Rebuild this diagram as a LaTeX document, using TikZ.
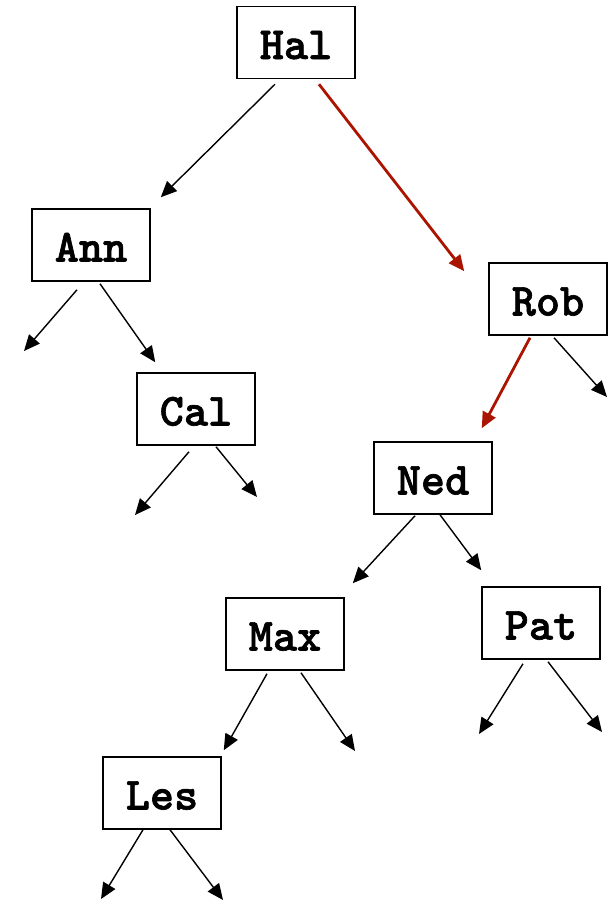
\documentclass[tikz,border=0pt]{standalone}
\usepackage{fontspec}
\newfontfamily\keyfont{lmmonolt10-bold.otf}[FakeBold=1.4]
\usetikzlibrary{arrows.meta}
\definecolor{ptrred}{RGB}{170,20,0}

\begin{document}
\begin{tikzpicture}[x=1pt,y=-1pt,
		>={Triangle[length=16pt,width=14pt]},
		box/.style={draw,line width=1.5pt,minimum width=118pt,minimum height=72pt,inner sep=0pt,
			text height=33pt,text depth=0pt,font=\fontsize{46}{46}\selectfont\keyfont},
		ptr/.style={->,line width=1.4pt},
		hot/.style={->,line width=2.8pt,draw=ptrred}]
				\useasboundingbox (0,0) rectangle (611,902);

				\node[box] (hal) at (296,42.5){Hal};
				\node[box] (ann) at (91,245){Ann};
				\node[box] (rob) at (548,299){Rob};
				\node[box] (cal) at (196,409){Cal};
				\node[box] (ned) at (433,478){Ned};
				\node[box] (max) at (285,634){Max};
				\node[box] (pat) at (541,623){Pat};
				\node[box] (les) at (162,793){Les};

				% empty children
				\coordinate (ann-l) at (24,351);
				\coordinate (cal-l) at (135,515);
				\coordinate (cal-r) at (257,497);
				\coordinate (rob-r) at (607,397);
				\coordinate (max-r) at (355,751);
				\coordinate (pat-l) at (479,734);
				\coordinate (pat-r) at (602,732);
				\coordinate (les-l) at (101,899);
				\coordinate (les-r) at (223,900);

				% search path
				\draw[hot] ([xshift=23pt,yshift=-5pt]hal.south) -- ([xshift=-24pt,yshift=-9pt]rob.north west);
				\draw[hot] ([xshift=-18pt,yshift=-2pt]rob.south) -- ([xshift=-11pt,yshift=13pt]ned.north east);

				\draw[ptr] ([xshift=-21pt,yshift=-5pt]hal.south) -- ([xshift=10pt,yshift=11pt]ann.north east);
				\draw[ptr] ([xshift=-14pt,yshift=-8pt]ann.south) -- (ann-l);
				\draw[ptr] ([xshift=9pt,yshift=-2pt]ann.south) -- ([xshift=19pt,yshift=10pt]cal.north west);
				\draw[ptr] ([xshift=-7pt,yshift=-6pt]cal.south) -- (cal-l);
				\draw[ptr] ([xshift=20pt,yshift=-1pt]cal.south) -- (cal-r);
				\draw[ptr] ([xshift=6pt,yshift=-2pt]rob.south) -- (rob-r);
				\draw[ptr] ([xshift=-18pt,yshift=-1pt]ned.south) -- ([xshift=8pt,yshift=14pt]max.north east);
				\draw[ptr] ([xshift=7pt]ned.south) -- ([yshift=16pt]pat.north west);
				\draw[ptr] ([xshift=-18pt,yshift=-3pt]max.south) -- ([xshift=2pt,yshift=6pt]les.north east);
				\draw[ptr] ([xshift=16pt,yshift=-2pt]max.south) -- (max-r);
				\draw[ptr] ([xshift=-18pt,yshift=-4pt]pat.south) -- (pat-l);
				\draw[ptr] ([xshift=7pt,yshift=-2pt]pat.south) -- (pat-r);
				\draw[ptr] ([xshift=-19pt]les.south) -- (les-l);
				\draw[ptr] ([xshift=8pt]les.south) -- (les-r);
			\end{tikzpicture}
\end{document}
